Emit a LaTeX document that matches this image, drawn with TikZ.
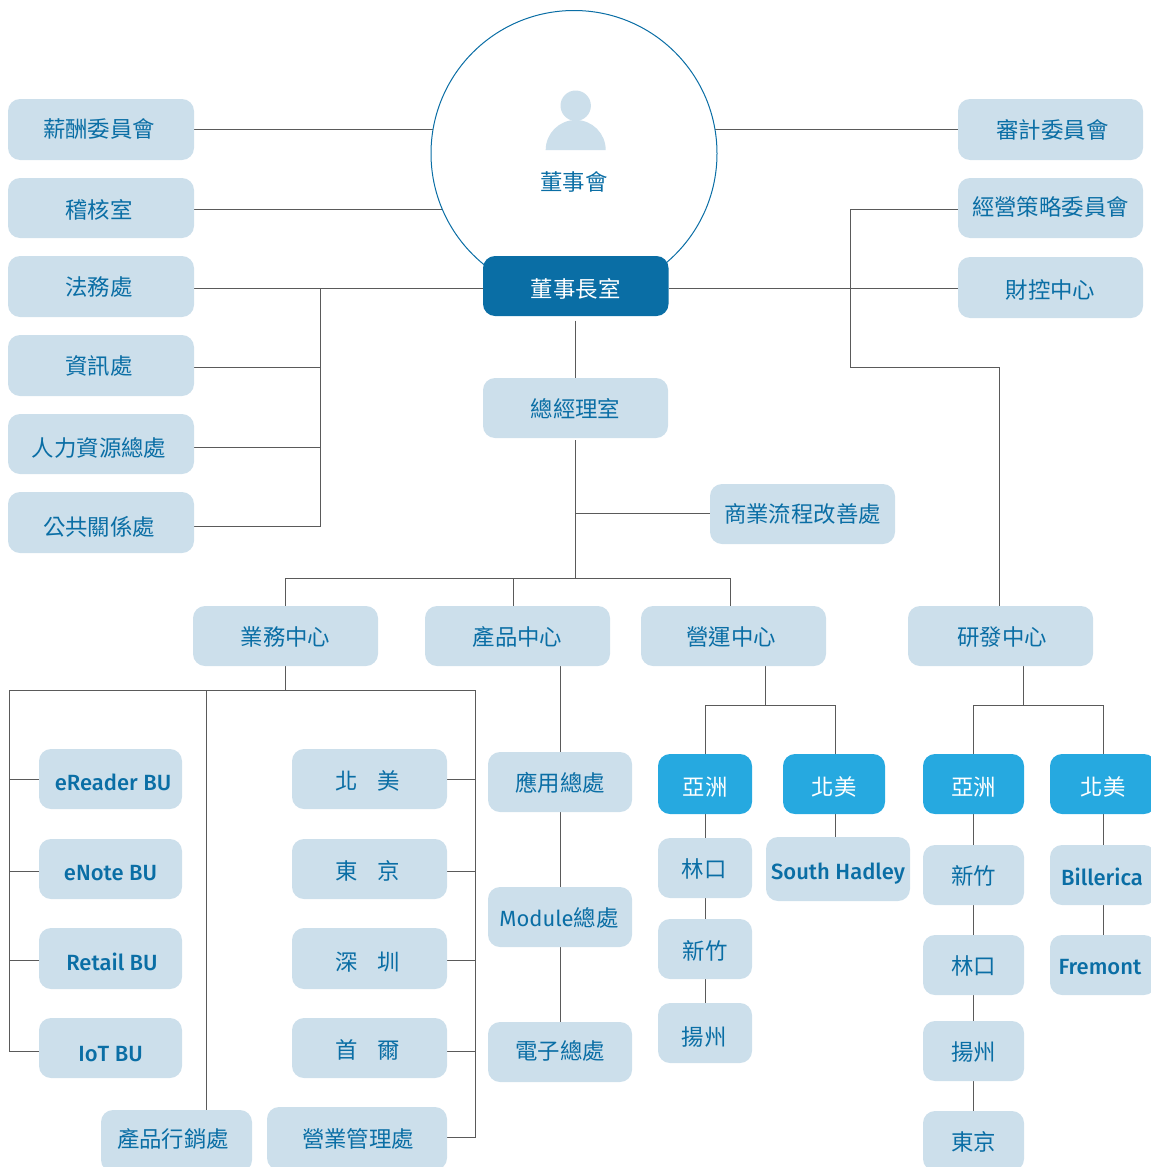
\documentclass[tikz,border=0pt]{standalone}
\usepackage{fontspec}
\usetikzlibrary{backgrounds,calc}
\newfontfamily\cjk{Noto Sans CJK TC}
\newfontfamily\latinf{Fira Sans Medium}
\newlength\pxu \setlength\pxu{0.75pt}
\definecolor{boxc}{HTML}{CCDFEB}
\definecolor{deep}{HTML}{0A6EA5}
\definecolor{sky}{HTML}{26A9E0}
\definecolor{linec}{HTML}{5A5A5A}
\tikzset{
  base/.style={rounded corners=9pt,inner sep=0pt,outer sep=0pt,anchor=center},
  pale/.style={base,fill=boxc,text=deep,font=\fontsize{16.8}{18}\cjk},
  palelat/.style={base,fill=boxc,text=deep,font=\fontsize{16.5}{18}\latinf},
  dark/.style={base,fill=deep,text=white,font=\fontsize{16.8}{18}\cjk},
  bright/.style={base,fill=sky,text=white,font=\fontsize{16.8}{18}\cjk},
  conn/.style={draw=linec,line width=0.75pt},
}
% name, left, top, right, bottom, style, dx, dy, text
\newcommand{\bx}[9]{%
  \node[#6,minimum width={(#4-#2)*0.75pt},minimum height={(#5-#3)*0.75pt}] (#1) at ({(#2+#4)/2},{(#3+#5)/2})
   {\raisebox{\dimexpr-0.40em-#8\pxu\relax}[0pt][0pt]{\makebox[0pt]{\hspace*{\dimexpr2\dimexpr#7\pxu\relax\relax}#9}}};}
\newcommand{\gapped}[2]{#1\hspace{15pt}#2}
\begin{document}
\begin{tikzpicture}[x=0.75pt,y=-0.75pt]
\useasboundingbox (0,0) rectangle (1150,1167);
% circle
\node[circle,draw=deep,fill=white,line width=0.75pt,minimum size=214.5pt,inner sep=0pt,outer sep=0pt] (board) at (574,153.5) {};
\fill[boxc] (575.7,105.7) circle[radius=11.4pt];
\fill[boxc] (545.7,150) arc[start angle=180,end angle=0,radius=22.5pt] -- cycle;
\node[text=deep,font=\fontsize{16.8}{18}\cjk,inner sep=0pt] (boardt) at (574,182) {董事會};
% left column
\bx{xc}{8}{99}{194}{160}{pale}{-2}{-1}{薪酬委員會}
\bx{aud}{8}{178}{194}{238}{pale}{-2}{2}{稽核室}
\bx{law}{8}{256}{194}{317}{pale}{-2}{0}{法務處}
\bx{it}{8}{335}{194}{396}{pale}{-2}{0}{資訊處}
\bx{hr}{8}{414}{194}{474}{pale}{-2}{4}{人力資源總處}
\bx{pr}{8}{492}{194}{553}{pale}{-2}{4}{公共關係處}
% right column
\bx{ac}{958}{99}{1143}{160}{pale}{2}{0}{審計委員會}
\bx{st}{958}{178}{1143}{238}{pale}{0}{-1}{經營策略委員會}
\bx{fin}{958}{257}{1143}{318}{pale}{0}{2}{財控中心}
% middle
\bx{chair}{483}{256}{668.5}{316}{dark}{0}{3}{董事長室}
\bx{gm}{483}{378}{668}{438}{pale}{0}{1}{總經理室}
\bx{bpr}{710}{484}{895}{544}{pale}{0}{0}{商業流程改善處}
\bx{sales}{193}{606}{378}{666}{pale}{0}{1}{業務中心}
\bx{prod}{425}{606}{610}{666}{pale}{0}{1}{產品中心}
\bx{ops}{641}{606}{826}{666}{pale}{-2.5}{1}{營運中心}
\bx{rd}{908}{606}{1093}{666}{pale}{1.5}{1}{研發中心}
% sales left
\bx{er}{39}{749}{182}{809}{palelat}{2.5}{3}{eReader BU}
\bx{en}{39}{839}{182}{899}{palelat}{0}{3}{eNote BU}
\bx{re}{39}{928}{182}{989}{palelat}{1.5}{3}{Retail BU}
\bx{iot}{39}{1018}{182}{1078}{palelat}{0}{5}{IoT BU}
% sales right
\bx{na}{292}{749}{447}{809}{pale}{-1.5}{2}{\gapped{北}{美}}
\bx{tk}{292}{839}{447}{899}{pale}{-1.5}{2}{\gapped{東}{京}}
\bx{sz}{292}{928}{447}{989}{pale}{-1.5}{3}{\gapped{深}{圳}}
\bx{se}{292}{1018}{447}{1078}{pale}{-1.5}{2}{\gapped{首}{爾}}
\bx{mk}{101}{1110}{252}{1172}{pale}{-3.5}{-2}{產品行銷處}
\bx{sm}{267}{1107}{447}{1170}{pale}{1}{0}{營業管理處}
% product
\bx{app}{488}{752}{632}{812}{pale}{0}{1}{應用總處}
\bx{mod}{488}{887}{632}{947}{pale}{-1}{1}{{\fontspec{Fira Sans}\fontsize{16.5}{18}\selectfont Module}總處}
\bx{ele}{488}{1022}{632}{1082}{pale}{0}{-1}{電子總處}
% ops
\bx{oa}{658}{754}{752}{814}{bright}{0}{3}{亞洲}
\bx{ona}{783}{754}{885}{814}{bright}{0}{3}{北美}
\bx{ol}{658}{838}{752}{898}{pale}{-1}{1}{林口}
\bx{ox}{658}{919}{752}{979}{pale}{0}{2}{新竹}
\bx{oy}{658}{1003}{752}{1063}{pale}{-1}{4}{揚州}
\bx{osh}{766}{837}{910}{901}{palelat}{0}{2}{South Hadley}
% rd
\bx{ra}{923}{754}{1024}{814}{bright}{0}{3}{亞洲}
\bx{rna}{1050}{754}{1156}{814}{bright}{0}{3}{北美}
\bx{rx}{923}{845}{1024}{905}{pale}{0}{1}{新竹}
\bx{rl}{923}{935}{1024}{995}{pale}{0}{1}{林口}
\bx{ry}{923}{1021}{1024}{1081}{pale}{0}{1}{揚州}
\bx{rt}{923}{1111}{1024}{1171}{pale}{0}{1}{東京}
\bx{rb}{1050}{845}{1156}{905}{palelat}{-1}{2}{Billerica}
\bx{rf}{1050}{935}{1156}{995}{palelat}{-3}{1}{Fremont}
% junctions
\coordinate (jl) at (320,288.5);
\coordinate (jr) at (850,288.5);
\coordinate (jrt) at (999,367.5);
\coordinate (jm) at (575.5,513.5);
\coordinate (jb) at (575.5,578);
\coordinate (jsl) at (9,690.5);
\coordinate (jsm) at (206,690.5);
\coordinate (jsr) at (475,690.5);
\coordinate (jo) at (765,705);
\coordinate (jrd) at (1023.5,705);
\coordinate (cxx) at (285,0);
\coordinate (pxx) at (513.5,0);
\coordinate (opx) at (730,0);
\coordinate (ptx) at (560,0);
\coordinate (oax) at (705.5,0);
\coordinate (onx) at (835,0);
\coordinate (rax) at (973.5,0);
\coordinate (rnx) at (1103.5,0);
\begin{scope}[on background layer]
\draw[conn] (xc.east |- 0,129.5) -- (board.center |- 0,129.5);
\draw[conn] (aud.east |- 0,209) -- (board.center |- 0,209);
\draw[conn] (ac.west |- 0,129.5) -- (board.center |- 0,129.5);
\draw[conn] (law.east |- jl) -- (chair.west |- jl);
\draw[conn] (it.east |- 0,367.5) -- (jl |- 0,367.5);
\draw[conn] (hr.east |- 0,447) -- (jl |- 0,447);
\draw[conn] (pr.east |- 0,526.5) -- (jl |- 0,526.5) -- (jl);
\draw[conn] (chair.east |- jr) -- (fin.west |- jr);
\draw[conn] (st.west |- 0,209) -- (jr |- 0,209) -- (jr |- jrt) -- (jrt) -- (jrt |- rd.north);
\draw[conn,shorten <=3.5pt] (chair.south) -- (chair.south |- gm.north);
\draw[conn,shorten <=1.5pt] (gm.south) -- (jb);
\draw[conn] (jm) -- (bpr.west |- jm);
\draw[conn] (jb -| cxx) -- (jb -| opx);
\draw[conn] (jb -| cxx) -- (cxx |- sales.north);
\draw[conn] (jb -| pxx) -- (pxx |- prod.north);
\draw[conn] (jb -| opx) -- (opx |- ops.north);
\draw[conn] (sales.south -| cxx) -- (jsl -| cxx);
\draw[conn] (iot.west |- 0,1051) -- (jsl |- 0,1051) -- (jsl) -- (jsr) -- (jsr |- 0,1137) -- (sm.east |- 0,1137);
\draw[conn] (jsm) -- (jsm |- mk.north);
\draw[conn] (er.west |- 0,779) -- (jsl |- 0,779);
\draw[conn] (en.west |- 0,871) -- (jsl |- 0,871);
\draw[conn] (re.west |- 0,960) -- (jsl |- 0,960);
\draw[conn] (na.east |- 0,779) -- (jsr |- 0,779);
\draw[conn] (tk.east |- 0,871) -- (jsr |- 0,871);
\draw[conn] (sz.east |- 0,960) -- (jsr |- 0,960);
\draw[conn] (se.east |- 0,1051) -- (jsr |- 0,1051);
\draw[conn] (prod.south -| ptx) -- (app.north -| ptx);
\draw[conn] (app.south -| ptx) -- (mod.north -| ptx);
\draw[conn] (mod.south -| ptx) -- (ele.north -| ptx);
\draw[conn] (ops.south -| jo) -- (jo);
\draw[conn] (oax |- oa.north) -- (oax |- jo) -- (onx |- jo) -- (onx |- ona.north);
\draw[conn] (oa.south -| oax) -- (ol.north -| oax);
\draw[conn] (ol.south -| oax) -- (ox.north -| oax);
\draw[conn] (ox.south -| oax) -- (oy.north -| oax);
\draw[conn] (ona.south -| onx) -- (osh.north -| onx);
\draw[conn] (rd.south -| jrd) -- (jrd);
\draw[conn] (rax |- ra.north) -- (rax |- jrd) -- (rnx |- jrd) -- (rnx |- rna.north);
\draw[conn] (ra.south -| rax) -- (rx.north -| rax);
\draw[conn] (rx.south -| rax) -- (rl.north -| rax);
\draw[conn] (rl.south -| rax) -- (ry.north -| rax);
\draw[conn] (ry.south -| rax) -- (rt.north -| rax);
\draw[conn] (rna.south -| rnx) -- (rb.north -| rnx);
\draw[conn] (rb.south -| rnx) -- (rf.north -| rnx);
\end{scope}
\end{tikzpicture}
\end{document}
